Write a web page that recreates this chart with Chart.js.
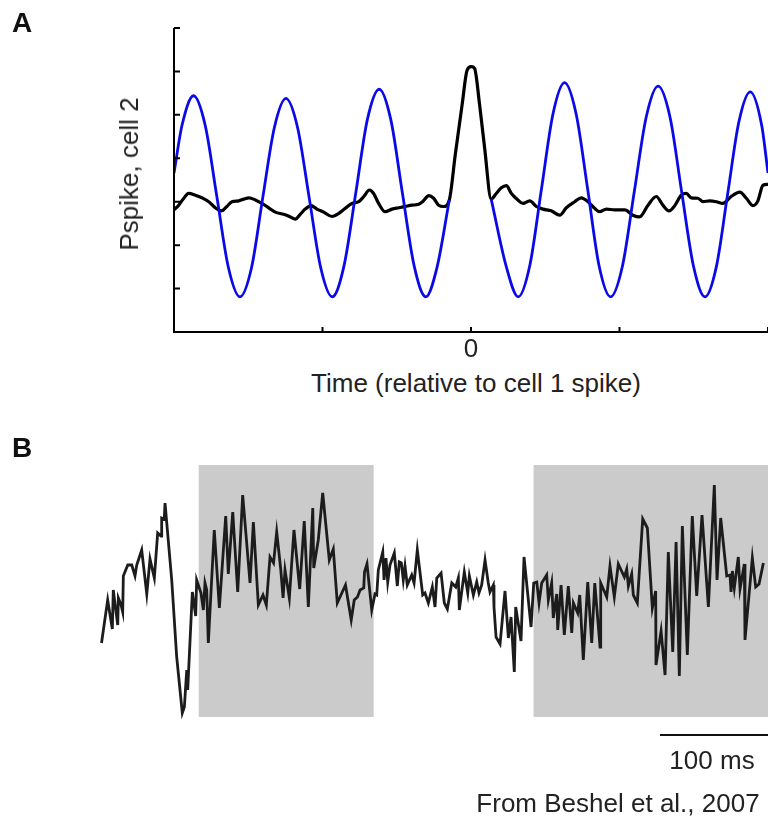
<!DOCTYPE html>
<html>
<head>
<meta charset="utf-8">
<script src="https://cdn.jsdelivr.net/npm/chart.js@4.4.1/dist/chart.umd.min.js"></script>
<style>
    body { margin: 0; background: #fff; }
    #page { position: relative; width: 768px; height: 819px; overflow: hidden; font-family: "Liberation Sans", Arial, sans-serif; color: #222; }
    #page canvas { position: absolute; left: 0; }
    .label { position: absolute; white-space: nowrap; line-height: 1; }
    .panel { font-weight: bold; font-size: 28px; color: #111; }
    .centered { font-size: 26px; transform: translate(-50%, -50%); }
</style>
</head>
<body>
<div id="page">
    <canvas id="chartA" width="768" height="360" style="top:0"></canvas>
    <canvas id="chartB" width="768" height="354" style="top:465px"></canvas>

    <div class="label panel" style="left:12px; top:9px">A</div>
    <div class="label centered" style="left:129px; top:174px; transform: translate(-50%, -50%) rotate(-90deg)">Pspike, cell 2</div>
    <div class="label centered" style="left:476px; top:383px">Time (relative to cell 1 spike)</div>

    <div class="label panel" style="left:12px; top:434px">B</div>
    <div class="label centered" style="left:712px; top:760px">100 ms</div>
    <div class="label centered" style="left:618px; top:803px">From Beshel et al., 2007</div>
</div>
<script>
(() => {
    /* DATA */

    // Panel A: spike probability of cell 2 around a cell 1 spike (lag, arbitrary units)
    // the model curve is left empty where it runs under the measured peak at zero lag
    var modelLag = [-100, -97.3, -93.4, -89.5, -85.6, -81.7, -77.8, -73.9, -70.1, -66.2, -62.3, -58.4, -54.5, -50.6, -46.7,
        -42.8, -38.8, -34.9, -30.9, -27.0, -23.1, -19.1, -15.2, -11.4, -7.3, -5.3, -3.0, -1.3, 0.1, 1.2, 2.9, 4.6, 6.8,
        11.9, 15.9, 19.8, 23.7, 27.6, 31.5, 35.4, 39.3, 43.1, 47.0, 51.0, 55.0, 59.0, 63.0, 67.0, 70.9, 74.9, 78.8,
        82.6, 86.4, 90.2, 94.0, 97.9, 100];
    var modelP = [3.66, 4.76, 5.44, 4.76, 3.13, 1.49, 0.81, 1.48, 3.10, 4.71, 5.38, 4.71, 3.10, 1.48, 0.81,
        1.51, 3.20, 4.89, 5.59, 4.89, 3.20, 1.51, 0.81, 1.50, 3.04, null, null, null, null, null, null, null, 3.06,
        1.50, 0.81, 1.53, 3.28, 5.02, 5.74, 5.02, 3.28, 1.53, 0.81, 1.52, 3.24, 4.95, 5.66, 4.95, 3.24, 1.52, 0.81,
        1.50, 3.17, 4.84, 5.53, 4.75, 3.66];

    var dataLag = [-100, -98.4, -96.7, -95.1, -92.8, -90.6, -88.3, -86.1, -84.1, -82.2, -80.5, -78.2, -76.5, -74.8,
        -72.6, -70.4, -68.1, -65.9, -63.1, -60.8, -59.2, -57.5, -55.8, -53.8, -51.9, -49.6, -46.8, -44.5, -42.3, -40.1,
        -37.8, -36.1, -34.2, -32.8, -31.1, -28.9, -26.6, -24.3, -22.1, -19.9, -17.6, -16.3, -14.2, -12.6, -10.9, -9.2,
        -7.3, -5.3, -3.0, -1.3, 0.1, 1.2, 2.9, 4.6, 6.8, 8.5, 10.2, 11.9, 13.6, 15.8, 17.5, 19.8, 22.0, 24.2, 27.0,
        29.9, 32.1, 34.9, 37.1, 39.4, 41.6, 43.3, 45.6, 48.4, 51.8, 54.5, 56.8, 59.6, 62.4, 64.6, 66.7, 68.6, 70.8,
        72.5, 74.2, 76.4, 78.1, 80.4, 82.6, 84.8, 87.6, 90.5, 92.7, 94.9, 96.6, 98.3, 100];
    var dataP = [2.81, 2.92, 3.08, 3.19, 3.15, 3.09, 3.00, 2.86, 2.79, 2.89, 3.00, 3.02, 3.06, 3.09,
        3.04, 2.96, 2.86, 2.76, 2.71, 2.65, 2.60, 2.71, 2.83, 2.91, 2.83, 2.76, 2.66, 2.73, 2.85, 2.96,
        3.00, 3.12, 3.27, 3.19, 2.96, 2.77, 2.83, 2.86, 2.89, 2.92, 2.94, 3.00, 3.14, 3.08, 2.92, 2.89,
        3.04, 4.08, 5.23, 6.03, 6.11, 6.07, 5.23, 4.23, 3.06, 3.19, 3.32, 3.37, 3.19, 3.04, 2.96, 3.02, 2.89, 2.83, 2.79,
        2.69, 2.86, 3.00, 3.09, 3.00, 2.85, 2.77, 2.83, 2.81, 2.81, 2.69, 2.65, 2.92, 3.12, 2.92, 2.79, 2.91, 3.15,
        3.19, 3.09, 3.08, 3.00, 3.02, 3.00, 2.96, 3.12, 3.22, 3.08, 2.91, 3.02, 3.38, 3.40];

    var lagTicks = [-100, -50, 0, 50, 100];
    var lagTickLabels = ['', '', '0', '', ''];
    var pTicks = [0, 1, 2, 3, 4, 5, 6, 7];

    // Panel B: local field potential trace (ms, uV) and the shaded epochs
    var lfpTime = [0, 5.7, 10.0, 10.9, 15.0, 15.6, 18.1, 19.6, 20.2, 24.3, 28.0, 31.0, 32.6, 37.2, 41.9, 44.9, 48.9,
        52.0, 55.1, 55.7, 58.1, 58.8, 65.0, 69.6, 74.8, 76.7, 78.9, 79.8, 84.1, 87.2, 88.1, 92.1, 94.3, 95.8, 97.4,
        98.9, 104.4, 109.1, 115.0, 117.4, 121.5, 126.1, 130.7, 137.5, 140.6, 145.2, 149.5, 152.6, 156.0, 159.3, 162.2,
        165.9, 168.1, 169.9, 173.9, 178.2, 183.5, 187.7, 191.5, 195.6, 196.5, 200.7, 204.8, 210.9, 214.6, 218.3, 225.9,
        231.2, 234.0, 237.0, 239.4, 242.8, 243.5, 245.8, 250.2, 253.2, 254.8, 256.3, 260.4, 261.6, 263.4, 265.0, 267.1,
        271.1, 273.9, 275.7, 277.6, 279.4, 281.0, 283.1, 287.2, 289.4, 292.4, 297.4, 299.5, 302.6, 306.3, 308.8, 310.4,
        314.4, 317.4, 320.2, 324.3, 328.0, 330.4, 331.3, 335.9, 339.1, 340.6, 344.3, 347.4, 349.5, 352.0, 355.1, 358.1,
        359.7, 362.8, 363.4, 365.3, 369.0, 373.6, 376.7, 379.2, 382.2, 383.5, 388.4, 391.2, 397.7, 400.2, 403.0, 405.1,
        407.6, 412.2, 413.7, 416.8, 418.3, 421.5, 422.4, 425.5, 428.5, 432.2, 435.4, 436.9, 440.9, 442.8, 446.1, 450.2,
        453.9, 456.7, 461.6, 462.2, 467.8, 470.8, 474.8, 478.5, 484.1, 486.3, 487.8, 490.9, 492.4, 496.1, 501.1, 505.4,
        510.0, 513.1, 513.4, 518.1, 521.8, 524.8, 528.9, 532.0, 535.0, 537.8, 542.4, 547.0, 551.1, 556.0, 561.9, 567.4,
        569.9, 573.3, 578.9, 581.9, 582.9, 584.1, 585.9, 589.6, 591.2, 595.2, 595.8, 602.6, 605.7, 608.8, 612.8];
    var lfpValue = [-53, -10, -39, 0, -35, -8, -15, -22, 14, 25, 25, 14, 25, 40, -4, 31, 12,
        57, 54, 72, 71, 87, 10, -67, -123, -117, -80, -100, -2, -26, 10, -3, -20, 7, 0,
        -53, 60, -18, 74, 16, 78, -2, 95, 7, 68, -15, -5, -15, 33, 27, 58,
        21, -8, 20, -8, 60, 1, 69, -17, 82, 22, 50, 97, 30, 41, -13, 5,
        -30, -10, -7, 0, 2, 18, 26, -20, -4, -5, 20, 38, 10, 32, 8, 25,
        37, 4, 28, 27, 10, 24, 5, 15, 7, 40, -5, -3, -13, 3, -17, 12,
        17, -13, -19, 7, 3, 12, -20, 18, -3, 14, -5, 8, -3, 5, 30, 7,
        -2, 5, -17, -47, -54, -1, -48, -27, -82, -17, -51, 33, -37, 7, 8, -13,
        7, 15, -10, 7, -28, -4, -40, 5, -45, 4, -43, -13, -23, -5, -70, 8,
        -53, 7, -57, 7, -7, 24, -7, 26, 13, 21, 4, 16, -5, -13, 71, 62,
        -18, -1, -75, -41, -85, 38, -62, 48, -86, 64, -65, 74, -6, 75, -17, 105,
        10, 72, 14, 15, -2, 19, 2, 33, 1, 26, -50, 32, 3, 6, 27];

    var shadedStart = [90, 400];
    var shadedEnd = [252, 617.1];
    var shadedRange = [-127, 125];
    var scaleBarMs = 100;
    var scaleBarEnd = 617.1;
    var scaleBarLevel = -145;

    /* HELPERS */

    var toPoints = (xs, ys) => xs.map((x, i) => ({ x: x, y: ys[i] }));

    // frame with inward ticks, like the usual matlab box axes
    var frameAxes = {
        id: 'frameAxes',
        afterDatasetsDraw: (chart) => {
            var ctx = chart.ctx;
            var area = chart.chartArea;
            var xScale = chart.scales.x;
            var yScale = chart.scales.y;

            ctx.save();
            ctx.strokeStyle = '#000';
            ctx.lineWidth = 2;
            ctx.beginPath();
            ctx.moveTo(area.left, area.top);
            ctx.lineTo(area.left, area.bottom);
            ctx.lineTo(area.right, area.bottom);
            pTicks.forEach(v => {
                var py = yScale.getPixelForValue(v);
                ctx.moveTo(area.left, py);
                ctx.lineTo(area.left + 6, py);
            });
            lagTicks.forEach(v => {
                var px = xScale.getPixelForValue(v);
                ctx.moveTo(px, area.bottom);
                ctx.lineTo(px, area.bottom - 5);
            });
            ctx.stroke();

            ctx.fillStyle = '#222';
            ctx.font = '26px "Liberation Sans", Arial, sans-serif';
            ctx.textAlign = 'center';
            ctx.textBaseline = 'middle';
            lagTicks.forEach((v, i) => {
                if (lagTickLabels[i] != '') {
                    ctx.fillText(lagTickLabels[i], xScale.getPixelForValue(v), area.bottom + 18);
                }
            });
            ctx.restore();
        }
    };

    // grey epochs behind the trace plus the time scale bar
    var epochs = {
        id: 'epochs',
        beforeDatasetsDraw: (chart) => {
            var ctx = chart.ctx;
            var xScale = chart.scales.x;
            var yScale = chart.scales.y;
            var top = yScale.getPixelForValue(shadedRange[1]);
            var bottom = yScale.getPixelForValue(shadedRange[0]);

            ctx.save();
            ctx.fillStyle = '#cbcbcb';
            shadedStart.forEach((start, i) => {
                var left = xScale.getPixelForValue(start);
                var right = xScale.getPixelForValue(shadedEnd[i]);
                ctx.fillRect(left, top, right - left, bottom - top);
            });

            var barY = yScale.getPixelForValue(scaleBarLevel);
            ctx.strokeStyle = '#111';
            ctx.lineWidth = 2;
            ctx.beginPath();
            ctx.moveTo(xScale.getPixelForValue(scaleBarEnd - scaleBarMs), barY);
            ctx.lineTo(xScale.getPixelForValue(scaleBarEnd), barY);
            ctx.stroke();
            ctx.restore();
        }
    };

    var hiddenAxes = (xMin, xMax, yMin, yMax) => ({
        x: { type: 'linear', min: xMin, max: xMax, display: false },
        y: { type: 'linear', min: yMin, max: yMax, display: false }
    });

    /* CHARTS */

    new Chart(document.getElementById('chartA'), {
        type: 'line',
        data: {
            datasets: [
                {
                    label: 'model',
                    data: toPoints(modelLag, modelP),
                    borderColor: '#0a0ae6',
                    borderWidth: 2.8,
                    pointRadius: 0,
                    spanGaps: false,
                    cubicInterpolationMode: 'monotone'
                },
                {
                    label: 'data',
                    data: toPoints(dataLag, dataP),
                    borderColor: '#000',
                    borderWidth: 3.2,
                    pointRadius: 0,
                    cubicInterpolationMode: 'monotone'
                }
            ]
        },
        options: {
            responsive: false,
            animation: false,
            devicePixelRatio: 1,
            layout: { padding: { left: 174, top: 28, right: 0, bottom: 28 } },
            scales: hiddenAxes(-100, 100, 0, 7),
            plugins: { legend: { display: false }, tooltip: { enabled: false } }
        },
        plugins: [frameAxes]
    });

    new Chart(document.getElementById('chartB'), {
        type: 'line',
        data: {
            datasets: [
                {
                    label: 'LFP',
                    data: toPoints(lfpTime, lfpValue),
                    borderColor: '#1c1c1c',
                    borderWidth: 2.8,
                    pointRadius: 0,
                    tension: 0
                }
            ]
        },
        options: {
            responsive: false,
            animation: false,
            devicePixelRatio: 1,
            layout: { padding: 0 },
            scales: hiddenAxes(-94, 617.1, -229, 125),
            plugins: { legend: { display: false }, tooltip: { enabled: false } }
        },
        plugins: [epochs]
    });
})();
</script>
</body>
</html>
